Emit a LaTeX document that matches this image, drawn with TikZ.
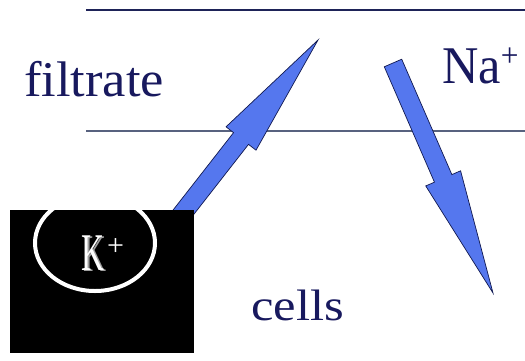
\documentclass[tikz,border=0pt]{standalone}
\usepackage{fontspec}
\setmainfont{Liberation Serif}
\usepackage{xcolor}
\usepackage{tikz}
\usetikzlibrary{calc}

\definecolor{inkblue}{HTML}{18195E}
\definecolor{membrane}{HTML}{1E2358}
\definecolor{membranelow}{HTML}{58627F}
\definecolor{ionblue}{HTML}{5577EE}
\definecolor{ionedge}{HTML}{101850}

% fat arrow from tail #2 to tip #3, named #1
\newcommand{\ionarrow}[3]{%
  \coordinate (#1-base) at ($(#3)!125pt!(#2)$);
  \filldraw[ionshape] ($(#2)!9.5pt!90:(#3)$) -- ($(#1-base)!9.5pt!90:(#3)$)
    -- ($(#1-base)!19pt!90:(#3)$) -- (#3) -- ($(#1-base)!19pt!-90:(#3)$)
    -- ($(#1-base)!9.5pt!-90:(#3)$) -- ($(#2)!9.5pt!-90:(#3)$) -- cycle;}

\begin{document}
\begin{tikzpicture}[x=1pt, y=-1pt,
    label/.style={text=inkblue, inner sep=0pt, anchor=base west},
    ionshape/.style={fill=ionblue, draw=ionedge, line width=0.7pt, line join=miter}]
    \useasboundingbox (0,0) rectangle (525,360);
    \fill[white] (0,0) rectangle (525,360);

    % membranes
    \draw[membrane, line width=2pt] (86,10) -- (525,10);
    \draw[membranelow, line width=1.5pt] (86,131) -- (525,131);

    \node[label, font=\fontsize{50}{50}\selectfont, xscale=1.05] (filtrate) at (24,96) {filtrate};
    \node[label, font=\fontsize{53}{53}\selectfont, xscale=0.95] (sodium) at (442,83)
        {Na\raisebox{17pt}{\fontsize{33}{33}\selectfont +}};
    \node[label, font=\fontsize{44}{44}\selectfont, xscale=1.15] (cells) at (251,320) {cells};

    % ion flows
    \coordinate (ktail) at (150,255);
    \coordinate (ktip) at (318,40);
    \coordinate (natail) at (393,63);
    \coordinate (natip) at (493,293);
    \ionarrow{k}{ktail}{ktip}
    \ionarrow{na}{natail}{natip}

    % potassium badge
    \node[fill=black, inner sep=0pt, minimum width=184pt, minimum height=143pt, anchor=north west] (kbox) at (10,210) {};
    \begin{scope}
        \clip (kbox.south west) rectangle (kbox.north east);
        \draw[white, line width=4pt] (95,243) ellipse [x radius=60pt, y radius=48pt];
    \end{scope}
    \node[text=gray!75, inner sep=0pt, anchor=base, font=\fontsize{53}{53}\selectfont, xscale=0.6] (kshadow) at (94.5,271) {K};
    \node[text=white, inner sep=0pt, anchor=base, font=\fontsize{53}{53}\selectfont, xscale=0.6] (kion) at (93,270) {K};
    \node[text=white, inner sep=0pt, anchor=base west, font=\fontsize{30}{30}\selectfont] (kplus) at (107,255) {+};
\end{tikzpicture}
\end{document}
